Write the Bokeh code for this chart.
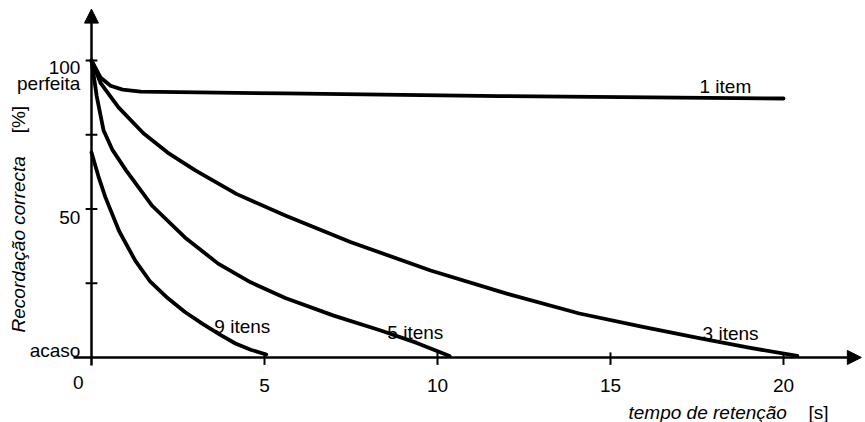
from bokeh.plotting import figure
from bokeh.models import Arrow, NormalHead, Range1d
from bokeh.core.properties import value
from bokeh.embed import file_html
from bokeh.resources import INLINE
import math

# ---- data ----
t_1 = [0, 0.26, 0.55, 0.9, 1.42, 5.6, 11.8, 20.0]
r_1 = [100, 94.3, 91.5, 90.2, 89.5, 88.9, 88.0, 87.2]

t_3 = [0, 0.26, 0.78, 1.5, 2.2, 3.0, 4.2, 5.6, 7.5, 9.8, 12.0, 14.1, 15.9, 17.6, 19.0, 20.4]
r_3 = [100, 92.5, 84.2, 75.5, 69.0, 63.0, 55.0, 47.8, 38.8, 29.3, 21.5, 14.8, 10.4, 6.4, 3.3, 0.5]

t_5 = [0, 0.15, 0.35, 0.6, 1.0, 1.76, 2.7, 3.66, 4.6, 5.6, 7.0, 8.36, 9.4, 10.35]
r_5 = [100, 88, 76.4, 70.0, 63.0, 51.0, 40.4, 31.6, 25.3, 20.0, 14.1, 9.1, 4.9, 0.5]

t_9 = [0, 0.2, 0.4, 0.8, 1.27, 1.7, 2.2, 2.7, 3.2, 3.7, 4.16, 4.6, 5.05]
r_9 = [69, 61, 54, 42.5, 32.5, 25.5, 20.0, 15.3, 11.4, 7.8, 4.7, 2.6, 1.0]

x_ticks = [5, 10, 15, 20]
x_tick_labels = ["5", "10", "15", "20"]
y_ticks = [25, 50, 75, 100]
y_tick_labels = ["100", "50"]

series_labels = ["1 item", "3 itens", "5 itens", "9 itens"]

FONT = "Liberation Sans"
FS = "19px"

p = figure(width=865, height=422, output_backend="svg", toolbar_location=None,
           x_range=Range1d(-2.63, 22.37), y_range=Range1d(-21.9, 120.2),
           min_border=0, min_border_left=0, min_border_right=0,
           min_border_top=0, min_border_bottom=0)
p.axis.visible = False
p.grid.visible = False
p.outline_line_color = None
p.background_fill_color = "white"
p.border_fill_color = "white"

# axes with arrows
p.add_layout(Arrow(end=NormalHead(size=14, fill_color="black", line_color="black", line_width=1),
                   x_start=0, y_start=-2.7, x_end=0, y_end=117.3,
                   line_width=2.5, line_color="black"))
p.add_layout(Arrow(end=NormalHead(size=14, fill_color="black", line_color="black", line_width=1),
                   x_start=-0.52, y_start=0, x_end=22.25, y_end=0,
                   line_width=2.5, line_color="black"))

# ticks
p.segment(x0=x_ticks, y0=[-2.5] * len(x_ticks), x1=x_ticks, y1=[1.7] * len(x_ticks),
          line_color="black", line_width=2)
p.segment(x0=[-0.17] * len(y_ticks), y0=y_ticks, x1=[0.17] * len(y_ticks), y1=y_ticks,
          line_color="black", line_width=2)

# curves
for tx, ry in [(t_1, r_1), (t_3, r_3), (t_5, r_5), (t_9, r_9)]:
    p.line(tx, ry, line_color="black", line_width=3.8, line_join="round", line_cap="round")

# tick labels
p.text(x=x_ticks, y=[-9.4] * len(x_ticks), text=x_tick_labels,
       text_font=value(FONT), text_font_size=FS, text_align="center",
       text_baseline="alphabetic", text_color="black")
p.text(x=[-0.32] * 2, y=[97.6, 47.1], text=y_tick_labels,
       text_font=value(FONT), text_font_size=FS, text_align="right",
       text_baseline="alphabetic", text_color="black")
p.text(x=[-0.23], y=[-8.4], text=["0"],
       text_font=value(FONT), text_font_size=FS, text_align="right",
       text_baseline="alphabetic", text_color="black")
p.text(x=[-0.32, -0.32], y=[92.3, 2.36], text=["perfeita", "acaso"],
       text_font=value(FONT), text_font_size=FS, text_align="right",
       text_baseline="alphabetic", text_color="black")

# series labels
p.text(x=[18.32, 18.47, 9.36, 4.36], y=[91.2, 8.1, 8.4, 10.4], text=series_labels,
       text_font=value(FONT), text_font_size=FS, text_align="center",
       text_baseline="alphabetic", text_color="black")

# axis titles
p.text(x=[15.52], y=[-18.5], text=["tempo de retenção"],
       text_font=value(FONT), text_font_size=FS, text_font_style="italic",
       text_align="left", text_baseline="alphabetic", text_color="black")
p.text(x=[20.72], y=[-18.5], text=["[s]"],
       text_font=value(FONT), text_font_size=FS,
       text_align="left", text_baseline="alphabetic", text_color="black")
p.text(x=[-2.1], y=[39.0], text=["Recordação  correcta"], angle=math.pi / 2,
       text_font=value(FONT), text_font_size=FS, text_font_style="italic",
       text_align="center", text_baseline="middle", text_color="black")
p.text(x=[-2.1], y=[80.1], text=["[%]"], angle=math.pi / 2,
       text_font=value(FONT), text_font_size=FS,
       text_align="center", text_baseline="middle", text_color="black")

open("out.html", "w").write(file_html(p, INLINE))
